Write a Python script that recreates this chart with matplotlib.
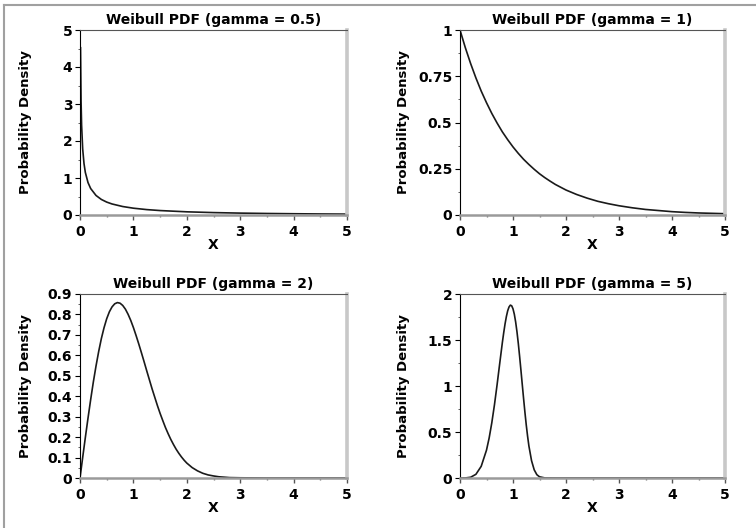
import matplotlib
matplotlib.use("Agg")
import matplotlib.pyplot as plt
from matplotlib.lines import Line2D
from matplotlib.ticker import MultipleLocator, FormatStrFormatter

# values
x_g05 = [0.01, 0.02, 0.03, 0.05, 0.075, 0.1, 0.15, 0.2, 0.3, 0.4, 0.5, 0.6, 0.8,
         1.0, 1.25, 1.5, 2.0, 2.5, 3.0, 3.5, 4.0, 4.5, 5.0]
y_g05 = [4.52, 3.07, 2.43, 1.79, 1.39, 1.15, 0.876, 0.715, 0.528, 0.420, 0.349, 0.298, 0.229,
         0.184, 0.146, 0.120, 0.086, 0.065, 0.051, 0.041, 0.034, 0.028, 0.024]

x_g1 = [0.0, 0.1, 0.2, 0.3, 0.4, 0.5, 0.6, 0.7, 0.8, 0.9, 1.0, 1.1, 1.2, 1.3, 1.4, 1.5,
        1.6, 1.7, 1.8, 1.9, 2.0, 2.2, 2.4, 2.6, 2.8, 3.0, 3.25, 3.5, 3.75, 4.0, 4.25,
        4.5, 4.75, 5.0]
y_g1 = [1.0, 0.905, 0.819, 0.741, 0.670, 0.607, 0.549, 0.497, 0.449, 0.407, 0.368, 0.333,
        0.301, 0.273, 0.247, 0.223, 0.202, 0.183, 0.165, 0.150, 0.135, 0.111, 0.091, 0.074,
        0.061, 0.050, 0.039, 0.030, 0.024, 0.018, 0.014, 0.011, 0.009, 0.007]

x_g2 = [0.0, 0.05, 0.1, 0.15, 0.2, 0.25, 0.3, 0.35, 0.4, 0.45, 0.5, 0.55, 0.6, 0.65, 0.7,
        0.75, 0.8, 0.85, 0.9, 0.95, 1.0, 1.05, 1.1, 1.15, 1.2, 1.25, 1.3, 1.35, 1.4, 1.45,
        1.5, 1.55, 1.6, 1.65, 1.7, 1.75, 1.8, 1.85, 1.9, 1.95, 2.0, 2.1, 2.2, 2.3, 2.4,
        2.5, 2.6, 2.8, 3.0, 3.5, 4.0, 4.5, 5.0]
y_g2 = [0.0, 0.100, 0.198, 0.293, 0.384, 0.470, 0.548, 0.619, 0.682, 0.735, 0.779, 0.813,
        0.837, 0.852, 0.858, 0.855, 0.844, 0.826, 0.801, 0.771, 0.736, 0.697, 0.656, 0.613,
        0.569, 0.524, 0.480, 0.436, 0.395, 0.354, 0.316, 0.281, 0.247, 0.217, 0.189, 0.164,
        0.141, 0.121, 0.103, 0.087, 0.073, 0.051, 0.035, 0.023, 0.015, 0.010, 0.006, 0.002,
        0.001, 0.0, 0.0, 0.0, 0.0]

x_g5 = [0.0, 0.1, 0.2, 0.3, 0.4, 0.5, 0.55, 0.6, 0.65, 0.7, 0.75, 0.8, 0.825, 0.85, 0.875,
        0.9, 0.925, 0.95, 0.975, 1.0, 1.025, 1.05, 1.075, 1.1, 1.125, 1.15, 1.175, 1.2,
        1.225, 1.25, 1.275, 1.3, 1.35, 1.4, 1.45, 1.5, 1.6, 1.8, 2.0, 3.0, 4.0, 5.0]
y_g5 = [0.0, 0.0005, 0.008, 0.040, 0.127, 0.303, 0.435, 0.600, 0.795, 1.015, 1.248, 1.476,
        1.580, 1.675, 1.755, 1.818, 1.859, 1.879, 1.872, 1.839, 1.780, 1.696, 1.589, 1.463,
        1.321, 1.170, 1.015, 0.862, 0.714, 0.577, 0.455, 0.348, 0.188, 0.089, 0.036, 0.013,
        0.001, 0.0, 0.0, 0.0, 0.0, 0.0]

titles = ["Weibull PDF (gamma = 0.5)", "Weibull PDF (gamma = 1)",
          "Weibull PDF (gamma = 2)", "Weibull PDF (gamma = 5)"]
y_tops = [5, 1, 0.9, 2]
y_major = [1, 0.25, 0.1, 0.5]
y_minor = [0.5, 0.125, 0.05, 0.25]

plt.rcParams["font.family"] = ["DejaVu Sans"]
plt.rcParams["font.weight"] = "bold"

fig = plt.figure(figsize=(7.56, 5.28), dpi=100)

# frame lines on the left and top edge of the picture
fig.add_artist(Line2D([4 / 756, 4 / 756], [0, 1 - 5 / 528], color="#a0a0a0", lw=1.5))
fig.add_artist(Line2D([4 / 756, 1], [1 - 5 / 528, 1 - 5 / 528], color="#a0a0a0", lw=1.5))

rects = [
    [80 / 756, 1 - 215 / 528, 267 / 756, 185 / 528],
    [460 / 756, 1 - 215 / 528, 265 / 756, 185 / 528],
    [80 / 756, 1 - 478 / 528, 267 / 756, 184 / 528],
    [460 / 756, 1 - 478 / 528, 265 / 756, 184 / 528],
]
series = [(x_g05, y_g05), (x_g1, y_g1), (x_g2, y_g2), (x_g5, y_g5)]

for i, (rect, (xs, ys)) in enumerate(zip(rects, series)):
    ax = fig.add_axes(rect)
    ax.plot(xs, ys, color="#1a1a1a", lw=1.2)
    ax.set_xlim(0, 5)
    ax.set_ylim(0, y_tops[i])

    ax.xaxis.set_major_locator(MultipleLocator(1))
    ax.xaxis.set_minor_locator(MultipleLocator(0.5))
    ax.yaxis.set_major_locator(MultipleLocator(y_major[i]))
    ax.yaxis.set_minor_locator(MultipleLocator(y_minor[i]))
    ax.yaxis.set_major_formatter(FormatStrFormatter("%g"))
    ax.xaxis.set_major_formatter(FormatStrFormatter("%g"))

    ax.tick_params(axis="x", which="major", direction="out", length=3.5, width=1,
                   color="#555555", labelsize=10, pad=4)
    ax.tick_params(axis="x", which="minor", direction="out", length=1.5, width=1,
                   color="#777777")
    ax.tick_params(axis="y", which="major", direction="out", length=3.5, width=0.8,
                   color="black", labelsize=10, pad=2)
    ax.tick_params(axis="y", which="minor", direction="out", length=1.8, width=0.6,
                   color="#444444")

    ax.spines["left"].set_color("black")
    ax.spines["left"].set_linewidth(0.8)
    ax.spines["top"].set_color("#555555")
    ax.spines["top"].set_linewidth(0.8)
    ax.spines["right"].set_color("#c8c8c8")
    ax.spines["right"].set_linewidth(2.6)
    ax.spines["bottom"].set_color("#9a9a9a")
    ax.spines["bottom"].set_linewidth(1.8)

    ax.set_title(titles[i], fontsize=10, fontweight="bold", pad=4)
    ax.set_xlabel("X", fontsize=10, fontweight="bold", labelpad=-1)
    ax.set_ylabel("Probability Density", fontsize=9.5, fontweight="bold")
    if i % 2 == 0:
        ax.yaxis.set_label_coords(-0.18, 0.5)
    else:
        ax.yaxis.set_label_coords(-0.19, 0.5)

fig.savefig("out.png", dpi=100)
